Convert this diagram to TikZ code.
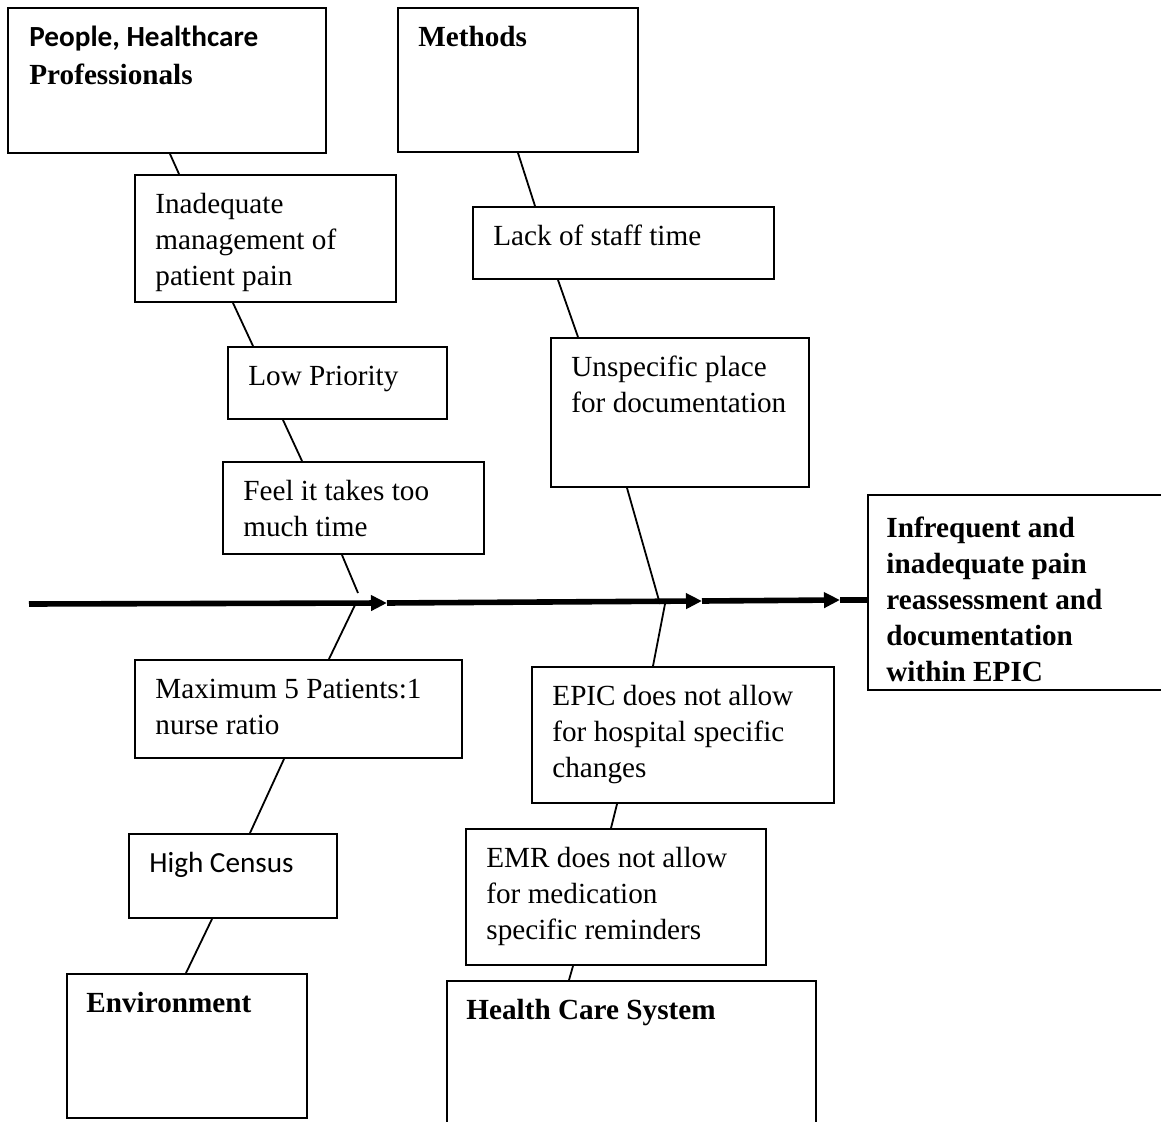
\documentclass[tikz,border=0pt]{standalone}
\usepackage{fontspec}
\setmainfont{Liberation Serif}
\newfontfamily\calib{Carlito}
\usetikzlibrary{arrows.meta}

\begin{document}
\begin{tikzpicture}
    [x=0.5pt, y=-0.5pt,
    box/.style = {rectangle, draw, line width=1pt, anchor=north west, inner sep=0pt},
    txt/.style = {anchor=north west, align=left, inner sep=0pt,
            xshift=10.5pt, yshift=-7pt, font=\fontsize{14.6}{18}\selectfont},
    spine/.style = {line width=2.8pt},
    bone/.style = {line width=0.9pt},
    tip/.style = {-{Triangle[length=8pt, width=7.5pt]}},
    ]

\useasboundingbox (0,0) rectangle (1161,1122);

% effect
\node[box, minimum width=151.5pt, minimum height=97.5pt,
    label={[txt, xshift=-1pt, yshift=-2pt, font=\fontsize{14.6}{18}\selectfont\bfseries]north west:\strut Infrequent and\\inadequate pain\\reassessment and\\documentation\\within EPIC}] (result) at (867,494) {};

% upper bones
\node[box, minimum width=159pt, minimum height=72.5pt,
    label={[txt, xshift=0.5pt]north west:\strut\hbox{\calib\bfseries People, Healthcare}\\[1pt]\hbox{\rmfamily\bfseries Professionals}}] (people) at (7,7) {};
\node[box, minimum width=130.5pt, minimum height=63.5pt,
    label={[txt]north west:\strut Inadequate\\management of\\patient pain}] (inadequate) at (134,174) {};
\node[box, minimum width=109.5pt, minimum height=36pt,
    label={[txt]north west:\strut Low Priority}] (lowprio) at (227,346) {};
\node[box, minimum width=130.5pt, minimum height=46pt,
    label={[txt]north west:\strut Feel it takes too\\much time}] (feel) at (222,461) {};

\node[box, minimum width=120pt, minimum height=72pt,
    label={[txt]north west:\strut\textbf{Methods}}] (methods) at (397,7) {};
\node[box, minimum width=150.5pt, minimum height=36pt,
    label={[txt]north west:\strut Lack of staff time}] (lack) at (472,206) {};
\node[box, minimum width=129pt, minimum height=74.5pt,
    label={[txt]north west:\strut Unspecific place\\for documentation}] (unspec) at (550,337) {};

% lower bones
\node[box, minimum width=163.5pt, minimum height=49pt,
    label={[txt]north west:\strut Maximum 5 Patients:1\\nurse ratio}] (maximum) at (134,659) {};
\node[box, minimum width=104pt, minimum height=42pt,
    label={[txt]north west:\strut\hbox{\calib High Census}}] (census) at (128,833) {};
\node[box, minimum width=120pt, minimum height=72pt,
    label={[txt, xshift=-0.5pt]north west:\strut\textbf{Environment}}] (env) at (66,973) {};

\node[box, minimum width=151pt, minimum height=68pt,
    label={[txt]north west:\strut EPIC does not allow\\for hospital specific\\changes}] (epic) at (531,666) {};
\node[box, minimum width=150pt, minimum height=68pt,
    label={[txt]north west:\strut EMR does not allow\\for medication\\specific reminders}] (emr) at (465,828) {};
\node[box, minimum width=184.5pt, minimum height=80pt,
    label={[txt, xshift=-0.5pt]north west:\strut\textbf{Health Care System}}] (hcs) at (446,980) {};

% spine
\coordinate (tail) at (29,604);
\coordinate (a1) at (387,603);
\coordinate (a2) at (702,601);
\coordinate (a3) at (840,600);
\draw[spine, tip] (tail) -- (a1);
\draw[spine, tip] (a1) -- (a2);
\draw[spine, tip] (a2) -- (a3);
\draw[spine] (a3) -- (a3 -| result.west);

% where the bones meet the spine
\coordinate (f1) at (358,593);
\coordinate (m1) at (355,605);
\coordinate (u1) at (660,604);
\coordinate (e1) at (665,604);

\draw[bone] ([xshift=81.5pt]people.south west) -- ([xshift=22.5pt]inadequate.north west);
\draw[bone] ([xshift=49.5pt]inadequate.south west) -- ([xshift=13pt]lowprio.north west);
\draw[bone] ([xshift=28pt]lowprio.south west) -- ([xshift=40pt]feel.north west);
\draw[bone] ([xshift=60pt]feel.south west) -- (f1);
\draw[bone] (m1) -- ([xshift=97.5pt]maximum.north west);
\draw[bone] ([xshift=75pt]maximum.south west) -- ([xshift=61pt]census.north west);
\draw[bone] ([xshift=42pt]census.south west) -- ([xshift=60pt]env.north west);

\draw[bone] ([xshift=60.5pt]methods.south west) -- ([xshift=31.5pt]lack.north west);
\draw[bone] ([xshift=43pt]lack.south west) -- ([xshift=14pt]unspec.north west);
\draw[bone] ([xshift=38.5pt]unspec.south west) -- (u1);
\draw[bone] (e1) -- ([xshift=61pt]epic.north west);
\draw[bone] ([xshift=43pt]epic.south west) -- ([xshift=73pt]emr.north west);
\draw[bone] ([xshift=54pt]emr.south west) -- ([xshift=61.5pt]hcs.north west);

\end{tikzpicture}
\end{document}
